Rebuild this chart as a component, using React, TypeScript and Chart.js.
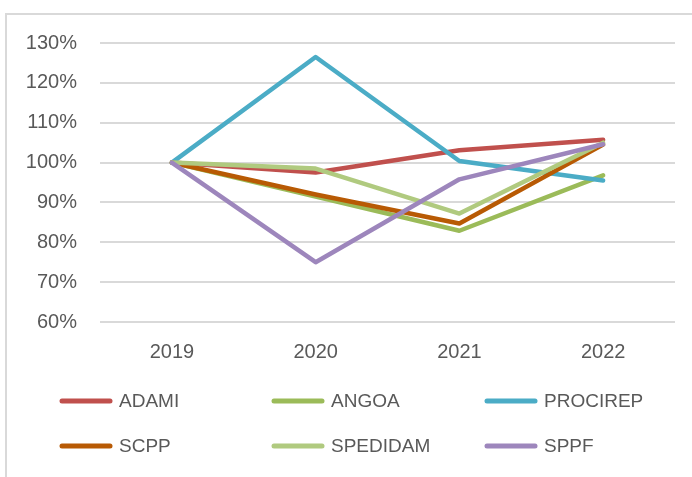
import React, { useEffect, useRef } from "react";
import { Chart, registerables } from "chart.js";

Chart.register(...registerables);

const categories = ["2019", "2020", "2021", "2022"];
const seriesNames = ["ADAMI", "ANGOA", "PROCIREP", "SCPP", "SPEDIDAM", "SPPF"];
const adami = [100, 97.5, 103.1, 105.7];
const angoa = [100, 91.5, 82.9, 96.8];
const procirep = [100, 126.5, 100.4, 95.5];
const scpp = [100, 92.0, 84.7, 104.5];
const spedidam = [100, 98.5, 87.2, 105.0];
const sppf = [100, 75.0, 95.8, 104.6];
const seriesValues = [adami, angoa, procirep, scpp, spedidam, sppf];
const seriesColors = ["#C0504D", "#9BBB59", "#4BACC6", "#B85A04", "#B0CA7F", "#9D86BC"];
const yMin = 60;
const yMax = 130;
const yStep = 10;

const FONT = "'Liberation Sans', Arial, sans-serif";

const frameAndLegend = {
  id: "frameAndLegend",
  beforeDraw(chart: any) {
    const ctx = chart.ctx;
    ctx.save();
    ctx.strokeStyle = "#D9D9D9";
    ctx.lineWidth = 2;
    ctx.strokeRect(6, 14, 800, 600);
    ctx.restore();
  },
  afterDraw(chart: any) {
    const ctx = chart.ctx;
    const ds = chart.data.datasets;
    const colX = [60, 272, 485];
    const rowY = [401, 446];
    ctx.save();
    ds.forEach((d: any, i: number) => {
      const x = colX[i % 3];
      const y = rowY[Math.floor(i / 3)];
      ctx.strokeStyle = d.borderColor;
      ctx.lineWidth = 5;
      ctx.lineCap = "round";
      ctx.beginPath();
      ctx.moveTo(x + 2, y);
      ctx.lineTo(x + 50, y);
      ctx.stroke();
      ctx.fillStyle = "#595959";
      ctx.font = `19px ${FONT}`;
      ctx.textBaseline = "middle";
      ctx.textAlign = "left";
      ctx.fillText(d.label, x + 59, y + 1);
    });
    ctx.restore();
  },
};

export default function App() {
  const ref = useRef<HTMLCanvasElement>(null);
  useEffect(() => {
    if (!ref.current) return;
    const chart = new Chart(ref.current, {
      type: "line",
      data: {
        labels: categories,
        datasets: seriesNames.map((name, i) => ({
          label: name,
          data: seriesValues[i],
          borderColor: seriesColors[i],
          backgroundColor: seriesColors[i],
          borderWidth: 4.5,
          pointRadius: 0,
          tension: 0,
          borderCapStyle: "round",
          borderJoinStyle: "round",
          order: seriesNames.length - i,
        })),
      },
      options: {
        animation: false,
        responsive: false,
        maintainAspectRatio: false,
        layout: { padding: { left: 0, right: 17, top: 43, bottom: 100 } },
        plugins: { legend: { display: false }, tooltip: { enabled: false } },
        scales: {
          x: {
            offset: true,
            grid: { display: false, drawTicks: false },
            border: { display: false },
            ticks: { color: "#595959", font: { family: FONT, size: 20 }, padding: 18 },
            afterFit(scale: any) {
              scale.height = 55;
            },
          },
          y: {
            min: yMin,
            max: yMax,
            grid: { color: "#D9D9D9", lineWidth: 2, drawTicks: false },
            border: { display: false },
            ticks: {
              stepSize: yStep,
              color: "#595959",
              font: { family: FONT, size: 20 },
              padding: 23,
              callback: (v: any) => `${v}%`,
            },
            afterFit(scale: any) {
              scale.width = 100;
            },
          },
        },
      },
      plugins: [frameAndLegend],
    });
    return () => chart.destroy();
  }, []);
  return (
    <div style={{ position: "fixed", left: 0, top: 0, width: 692, height: 477, background: "#fff" }}>
      <canvas ref={ref} width={692} height={477} style={{ display: "block" }} />
    </div>
  );
}
